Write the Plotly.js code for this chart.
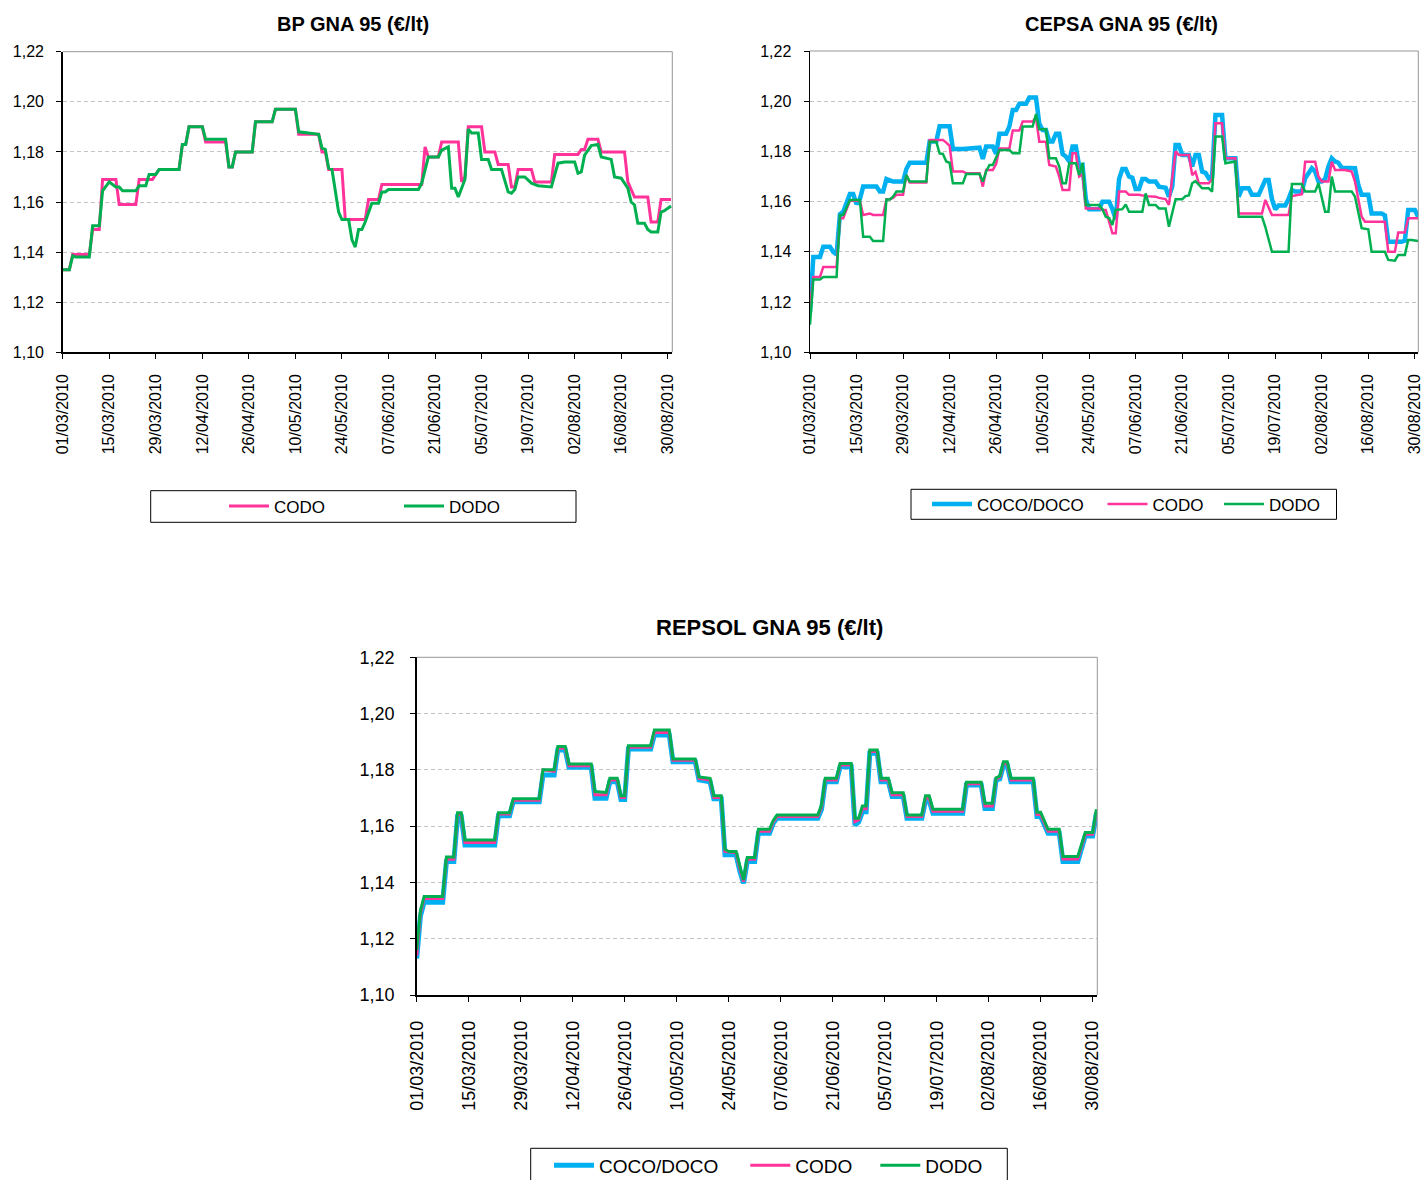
<!DOCTYPE html>
<html>
<head>
<meta charset="utf-8">
<script src="https://cdn.plot.ly/plotly-3.0.1.min.js"></script>
<style>html,body{margin:0;padding:0;background:#fff;}#chart{width:1423px;height:1180px;}</style>
</head>
<body>
<div id="chart"></div>
<script>
// ---------- DATA (day index from 01/03/2010, price €/lt) ----------
const startDate = '2010-03-01';
const tickLabelFormat = '%d/%m/%Y';
const yTicks = [1.10, 1.12, 1.14, 1.16, 1.18, 1.20, 1.22];
const seriesNames = ['COCO/DOCO', 'CODO', 'DODO'];
const chartTitles = ['BP GNA 95 (€/lt)', 'CEPSA GNA 95 (€/lt)', 'REPSOL GNA 95 (€/lt)'];

const bpCodo = [[0,1.133],[2,1.133],[3,1.139],[8,1.139],[9,1.149],[11,1.149],[12,1.169],[16,1.169],[17,1.159],[22,1.159],
 [23,1.169],[27,1.169],[28,1.171],[29,1.173],[35,1.173],[36,1.183],[37,1.183],[38,1.190],[42,1.190],[43,1.184],
 [49,1.184],[50,1.174],[51,1.174],[52,1.180],[57,1.180],[58,1.192],[63,1.192],[64,1.197],[70,1.197],[71,1.187],
 [77,1.187],[78,1.180],[79,1.180],[80,1.173],[84,1.173],[85,1.153],[91,1.153],[92,1.161],[95,1.161],[96,1.167],
 [108,1.167],[109,1.182],[110,1.178],[113,1.178],[114,1.184],[119,1.184],[120,1.168],[121,1.170],[122,1.190],[126,1.190],
 [127,1.180],[130,1.180],[131,1.175],[134,1.175],[135,1.166],[136,1.166],[137,1.173],[141,1.173],[142,1.168],[147,1.168],
 [148,1.179],[155,1.179],[156,1.181],[157,1.181],[158,1.185],[161,1.185],[162,1.180],[169,1.180],[170,1.168],[171,1.165],
 [172,1.162],[176,1.162],[177,1.152],[179,1.152],[180,1.161],[183,1.161]];

const bpDodo = [[0,1.133],[2,1.133],[3,1.1385],[4,1.138],[8,1.138],[9,1.1505],[11,1.1505],[12,1.1645],[14,1.168],[16,1.166],
 [17,1.166],[18,1.1645],[22,1.1645],[23,1.1665],[25,1.1665],[26,1.171],[28,1.171],[29,1.173],[35,1.173],[36,1.183],
 [37,1.183],[38,1.190],[42,1.190],[43,1.185],[49,1.185],[50,1.174],[51,1.174],[52,1.180],[57,1.180],[58,1.192],
 [63,1.192],[64,1.197],[70,1.197],[71,1.188],[77,1.187],[78,1.1815],[79,1.181],[80,1.1735],[81,1.173],[83,1.156],
 [84,1.153],[86,1.153],[87,1.145],[88,1.142],[89,1.149],[90,1.149],[91,1.152],[93,1.1595],[95,1.1595],[96,1.164],
 [97,1.164],[98,1.165],[107,1.165],[108,1.1675],[110,1.178],[113,1.178],[114,1.1807],[116,1.182],[117,1.1655],[118,1.1655],
 [119,1.162],[121,1.169],[122,1.189],[123,1.1875],[125,1.1875],[126,1.177],[128,1.177],[129,1.173],[132,1.173],[134,1.164],
 [135,1.1635],[136,1.165],[137,1.170],[139,1.170],[141,1.1675],[143,1.1665],[147,1.166],[149,1.1755],[151,1.176],[154,1.176],
 [155,1.1715],[156,1.172],[157,1.1787],[158,1.1807],[159,1.1825],[161,1.183],[162,1.178],[165,1.177],[166,1.170],[168,1.1695],
 [170,1.1655],[171,1.160],[172,1.1588],[173,1.1515],[175,1.1515],[176,1.149],[177,1.148],[179,1.148],[180,1.156],[181,1.1565],
 [183,1.1584]];

const cepsaCoco = [[0,1.116],[1,1.138],[3,1.138],[4,1.142],[6,1.142],[7,1.140],[8,1.139],[9,1.155],[10,1.156],[12,1.163],
 [13,1.163],[14,1.159],[15,1.161],[16,1.166],[20,1.166],[21,1.164],[22,1.164],[23,1.169],[25,1.168],[28,1.168],
 [29,1.173],[30,1.1755],[35,1.1755],[36,1.184],[38,1.184],[39,1.190],[42,1.190],[43,1.181],[46,1.181],[51,1.1815],
 [52,1.177],[53,1.182],[55,1.182],[56,1.179],[57,1.187],[59,1.187],[60,1.190],[61,1.1965],[62,1.1965],[63,1.199],
 [65,1.199],[66,1.2015],[68,1.2015],[69,1.191],[70,1.1885],[71,1.1885],[72,1.184],[73,1.184],[74,1.187],[75,1.187],
 [76,1.179],[77,1.178],[78,1.176],[79,1.182],[80,1.182],[81,1.174],[82,1.1745],[83,1.161],[84,1.157],[87,1.157],
 [88,1.160],[90,1.160],[91,1.157],[92,1.153],[93,1.169],[94,1.173],[95,1.173],[96,1.170],[97,1.1695],[98,1.165],
 [99,1.165],[100,1.169],[101,1.169],[102,1.168],[104,1.168],[105,1.166],[107,1.1655],[108,1.162],[109,1.166],[110,1.1826],
 [111,1.1826],[112,1.1786],[114,1.1786],[115,1.174],[116,1.1786],[117,1.1786],[118,1.172],[119,1.1715],[120,1.1693],[121,1.170],
 [122,1.1945],[124,1.1945],[125,1.1773],[128,1.1773],[129,1.162],[130,1.1653],[132,1.1653],[133,1.1627],[135,1.1627],[136,1.1653],
 [137,1.1686],[138,1.1686],[139,1.161],[140,1.157],[141,1.1585],[143,1.1585],[144,1.161],[145,1.1646],[146,1.164],[148,1.164],
 [149,1.1693],[150,1.1713],[151,1.1733],[152,1.172],[153,1.168],[154,1.168],[155,1.169],[156,1.174],[157,1.1773],[158,1.176],
 [159,1.1755],[160,1.1735],[164,1.1733],[165,1.1666],[166,1.1627],[168,1.1627],[169,1.1553],[172,1.1553],[173,1.1545],[174,1.144],
 [178,1.144],[179,1.1445],[180,1.1567],[182,1.1567],[183,1.154]];

const cepsaCodo = [[0,1.118],[1,1.130],[3,1.130],[4,1.134],[8,1.134],[9,1.1534],[10,1.1534],[12,1.1604],[15,1.1604],[16,1.1547],
 [17,1.155],[18,1.1553],[19,1.1547],[22,1.1547],[23,1.161],[24,1.161],[25,1.1615],[26,1.1627],[28,1.1627],[29,1.1706],
 [30,1.1676],[35,1.1676],[36,1.1846],[40,1.1846],[41,1.1835],[42,1.1822],[43,1.172],[46,1.172],[47,1.1713],[51,1.1713],
 [52,1.166],[53,1.1726],[55,1.1726],[56,1.175],[57,1.1812],[60,1.1812],[61,1.1883],[63,1.1883],[64,1.1919],[67,1.1919],
 [68,1.1936],[69,1.1839],[71,1.1839],[72,1.1746],[74,1.174],[75,1.170],[76,1.1646],[78,1.1646],[79,1.1793],[80,1.1793],
 [81,1.170],[82,1.171],[83,1.1573],[87,1.1573],[88,1.1567],[89,1.1567],[90,1.152],[91,1.1474],[92,1.1474],[93,1.164],
 [95,1.164],[96,1.1627],[99,1.1627],[101,1.1622],[104,1.162],[105,1.1615],[107,1.161],[108,1.1587],[110,1.180],[111,1.1786],
 [114,1.1786],[115,1.1706],[116,1.1719],[117,1.1673],[120,1.1673],[121,1.169],[122,1.1912],[124,1.1912],[125,1.1773],[128,1.1773],
 [129,1.1553],[136,1.1553],[137,1.1607],[138,1.158],[139,1.1547],[144,1.1547],[145,1.1622],[148,1.163],[149,1.1759],[152,1.1759],
 [153,1.170],[154,1.168],[156,1.168],[157,1.1759],[158,1.1726],[161,1.1726],[163,1.172],[164,1.168],[166,1.154],[167,1.152],
 [173,1.152],[174,1.140],[176,1.140],[177,1.1477],[179,1.1477],[180,1.1534],[183,1.1534]];

const cepsaDodo = [[0,1.111],[1,1.129],[3,1.129],[4,1.130],[8,1.130],[9,1.1547],[10,1.1547],[12,1.1607],[15,1.1607],[16,1.146],
 [18,1.146],[19,1.1443],[22,1.1443],[23,1.1609],[24,1.1609],[25,1.162],[26,1.164],[28,1.164],[29,1.1706],[30,1.168],
 [35,1.168],[36,1.1839],[38,1.1839],[39,1.1792],[40,1.179],[41,1.176],[42,1.1755],[43,1.1673],[46,1.1673],[47,1.171],
 [51,1.171],[52,1.168],[53,1.172],[54,1.1746],[55,1.1746],[57,1.1806],[60,1.1806],[61,1.1793],[63,1.1793],[64,1.1899],
 [67,1.1899],[68,1.1949],[69,1.1888],[71,1.1888],[72,1.1773],[74,1.1773],[75,1.174],[76,1.1673],[77,1.1673],[78,1.1753],
 [80,1.1753],[81,1.1706],[82,1.1755],[83,1.1587],[87,1.1587],[88,1.157],[89,1.154],[90,1.1535],[91,1.1507],[92,1.1567],
 [94,1.157],[95,1.1589],[96,1.156],[100,1.156],[101,1.1633],[102,1.1587],[104,1.1587],[105,1.1573],[107,1.1573],[108,1.150],
 [110,1.161],[112,1.161],[113,1.1622],[114,1.1625],[115,1.1673],[116,1.1682],[118,1.1653],[120,1.1653],[121,1.164],[122,1.1859],
 [124,1.1859],[125,1.1753],[128,1.176],[129,1.154],[136,1.154],[137,1.150],[139,1.140],[144,1.140],[145,1.167],[148,1.167],
 [149,1.164],[152,1.164],[153,1.1673],[155,1.156],[156,1.156],[157,1.170],[158,1.164],[163,1.164],[164,1.162],[166,1.1494],
 [168,1.149],[169,1.140],[173,1.140],[174,1.1368],[176,1.1365],[177,1.1388],[179,1.1388],[180,1.1447],[181,1.1447],[183,1.1443]];

const repsolCoco = [[0,1.113],[1,1.128],[2,1.133],[7,1.133],[8,1.1474],[10,1.1474],[11,1.1634],[12,1.1634],[13,1.1533],[21,1.1533],
 [22,1.1637],[25,1.1637],[26,1.1687],[33,1.1687],[34,1.1782],[37,1.1782],[38,1.1871],[40,1.1871],[41,1.1809],[47,1.1809],
 [48,1.1699],[51,1.1699],[52,1.1758],[54,1.1758],[55,1.1695],[56,1.1695],[57,1.1874],[63,1.1874],[64,1.1924],[68,1.1924],
 [69,1.1829],[75,1.1829],[76,1.1765],[79,1.1758],[80,1.1697],[82,1.1697],[83,1.1498],[86,1.1498],[87,1.144],[88,1.1397],
 [89,1.1474],[91,1.1474],[92,1.1575],[95,1.1575],[96,1.161],[97,1.1628],[108,1.1628],[109,1.166],[110,1.1758],[113,1.1758],
 [114,1.1811],[117,1.1811],[118,1.1604],[119,1.1615],[120,1.1651],[121,1.1651],[122,1.1859],[124,1.1859],[125,1.1758],[127,1.1758],
 [128,1.1705],[131,1.1705],[132,1.1628],[136,1.1628],[137,1.1690],[138,1.1690],[139,1.1646],[147,1.1646],[148,1.1746],[152,1.1746],
 [153,1.1663],[155,1.1663],[156,1.1764],[157,1.1768],[158,1.1817],[159,1.1817],[160,1.1758],[166,1.1758],[167,1.1634],[168,1.1634],
 [170,1.1575],[173,1.1575],[174,1.1474],[178,1.1474],[180,1.1565],[182,1.1565],[183,1.1646]];

const repsolCodo = [[0,1.114],[1,1.129],[2,1.1343],[7,1.1343],[8,1.1482],[10,1.1482],[11,1.1641],[12,1.1641],[13,1.1542],[21,1.1542],
 [22,1.1643],[25,1.1643],[26,1.1692],[33,1.1692],[34,1.1800],[37,1.1795],[38,1.1877],[40,1.1877],[41,1.1815],[47,1.1815],
 [48,1.1712],[51,1.1712],[52,1.1764],[54,1.1764],[55,1.1702],[56,1.1702],[57,1.1880],[63,1.1880],[64,1.1933],[68,1.1933],
 [69,1.1834],[75,1.1834],[76,1.1770],[79,1.1764],[80,1.1702],[82,1.1702],[83,1.1510],[86,1.1505],[87,1.1450],[88,1.1403],
 [89,1.1482],[91,1.1482],[92,1.1582],[95,1.1582],[96,1.1615],[97,1.1634],[108,1.1634],[109,1.1668],[110,1.1764],[113,1.1764],
 [114,1.1817],[117,1.1817],[118,1.1616],[119,1.1622],[120,1.1662],[121,1.1662],[122,1.1865],[124,1.1865],[125,1.1764],[127,1.1764],
 [128,1.1712],[131,1.1712],[132,1.1634],[136,1.1634],[137,1.1699],[138,1.1699],[139,1.1653],[147,1.1653],[148,1.1751],[152,1.1751],
 [153,1.1672],[155,1.1672],[156,1.1768],[157,1.1773],[158,1.1823],[159,1.1823],[160,1.1764],[166,1.1764],[167,1.1641],[168,1.1641],
 [170,1.1582],[173,1.1582],[174,1.1483],[178,1.1483],[180,1.1571],[182,1.1571],[183,1.1653]];

const repsolDodo = [[0,1.116],[1,1.130],[2,1.135],[7,1.135],[8,1.149],[10,1.149],[11,1.1648],[12,1.1648],[13,1.1551],[21,1.1551],
 [22,1.1648],[25,1.1648],[26,1.1697],[33,1.1697],[34,1.180],[37,1.180],[38,1.1883],[40,1.1883],[41,1.1821],[47,1.1821],
 [48,1.1723],[51,1.172],[52,1.177],[54,1.177],[55,1.1708],[56,1.1708],[57,1.1886],[63,1.1886],[64,1.1942],[68,1.1942],
 [69,1.1839],[75,1.1839],[76,1.1775],[79,1.1770],[80,1.1708],[82,1.1708],[83,1.1518],[84,1.151],[86,1.151],[87,1.146],
 [88,1.1409],[89,1.1489],[91,1.1489],[92,1.1589],[95,1.1589],[96,1.162],[97,1.164],[108,1.164],[109,1.1675],[110,1.177],
 [113,1.177],[114,1.1823],[117,1.1823],[118,1.1628],[119,1.1628],[120,1.1672],[121,1.1672],[122,1.1871],[124,1.1871],[125,1.177],
 [127,1.177],[128,1.1719],[131,1.1719],[132,1.164],[136,1.164],[137,1.1708],[138,1.1708],[139,1.166],[147,1.166],[148,1.1756],
 [152,1.1756],[153,1.1681],[155,1.1681],[156,1.1772],[157,1.1778],[158,1.1829],[159,1.1829],[160,1.177],[166,1.177],[167,1.1649],
 [168,1.1649],[170,1.1589],[173,1.1589],[174,1.1492],[178,1.1492],[180,1.1577],[182,1.1577],[183,1.166]];

// ---------- STYLE ----------
const colors = {coco: '#00B0F0', codo: '#FF3399', dodo: '#00B050'};
const FONT = 'Arial, "Liberation Sans", sans-serif';
const W = 1423, H = 1180;
const fx = p => p / W;            // pixel -> paper/container x
const fy = p => 1 - p / H;        // pixel -> paper/container y

function dayToDate(d) {
  const t = Date.parse(startDate + 'T00:00:00Z') + d * 86400000;
  return new Date(t).toISOString().slice(0, 10);
}
function mk(series, name, color, width, xa, ya, legendId) {
  return {
    type: 'scatter', mode: 'lines', name: name,
    x: series.map(p => dayToDate(p[0])), y: series.map(p => p[1]),
    xaxis: xa, yaxis: ya, legend: legendId, showlegend: true,
    line: {color: color, width: width, shape: 'linear'},
    hoverinfo: 'skip'
  };
}

const traces = [
  mk(bpCodo, seriesNames[1], colors.codo, 3, 'x', 'y', 'legend'),
  mk(bpDodo, seriesNames[2], colors.dodo, 3, 'x', 'y', 'legend2'),
  mk(cepsaCoco, seriesNames[0], colors.coco, 4.5, 'x2', 'y2', 'legend3'),
  mk(cepsaCodo, seriesNames[1], colors.codo, 2.5, 'x2', 'y2', 'legend4'),
  mk(cepsaDodo, seriesNames[2], colors.dodo, 2.5, 'x2', 'y2', 'legend5'),
  mk(repsolCoco, seriesNames[0], colors.coco, 5, 'x3', 'y3', 'legend6'),
  mk(repsolCodo, seriesNames[1], colors.codo, 3, 'x3', 'y3', 'legend7'),
  mk(repsolDodo, seriesNames[2], colors.dodo, 3, 'x3', 'y3', 'legend8')
];

function xAxis(dom, endRange, fs, standoff, anchor) {
  return {
    type: 'date', domain: dom, anchor: anchor,
    range: [startDate, endRange],
    tick0: startDate, dtick: 14 * 86400000, tickformat: tickLabelFormat,
    tickangle: -90, ticks: 'outside', ticklen: 5, tickwidth: 1, tickcolor: '#000',
    ticklabelstandoff: standoff, ticklabeloverflow: 'allow', automargin: false,
    showline: true, linecolor: '#000', linewidth: 1.5,
    showgrid: false, zeroline: false, fixedrange: true,
    tickfont: {family: FONT, size: fs, color: '#000'}
  };
}
function yAxis(dom, fs, standoff, anchor) {
  return {
    domain: dom, anchor: anchor, range: [1.10, 1.22],
    tickmode: 'array', tickvals: yTicks, tickformat: '.2f',
    ticks: 'outside', ticklen: 5, tickwidth: 1, tickcolor: '#000',
    ticklabelstandoff: standoff, ticklabeloverflow: 'allow', automargin: false,
    showline: true, linecolor: '#000', linewidth: 1.5,
    showgrid: true, gridcolor: '#C4C4C4', gridwidth: 1, griddash: '4px,3px',
    zeroline: false, fixedrange: true,
    tickfont: {family: FONT, size: fs, color: '#000'}
  };
}

function legendAt(xpx, ypx, fs) {
  return {
    xref: 'container', yref: 'container',
    x: fx(xpx), y: fy(ypx), xanchor: 'left', yanchor: 'middle',
    orientation: 'h', bgcolor: 'rgba(0,0,0,0)', borderwidth: 0,
    itemwidth: 40, tracegroupgap: 0,
    font: {family: FONT, size: fs, color: '#000'}
  };
}

function borderShapes(xa, ya) {
  return [
    {type: 'line', xref: xa + ' domain', yref: ya + ' domain', x0: 0, x1: 1, y0: 1, y1: 1, line: {color: '#969696', width: 1}, layer: 'above'},
    {type: 'line', xref: xa + ' domain', yref: ya + ' domain', x0: 1, x1: 1, y0: 0, y1: 1, line: {color: '#969696', width: 1}, layer: 'above'}
  ];
}
function boxShape(x0, x1, y0, y1) {
  return {type: 'rect', xref: 'paper', yref: 'paper', x0: fx(x0), x1: fx(x1), y0: fy(y1), y1: fy(y0),
          line: {color: '#000', width: 1}, fillcolor: 'rgba(0,0,0,0)'};
}
function titleAnn(text, xpx, ypx, fs) {
  return {text: '<b>' + text + '</b>', xref: 'paper', yref: 'paper', x: fx(xpx), y: fy(ypx),
          xanchor: 'center', yanchor: 'middle', showarrow: false,
          font: {family: FONT, size: fs, color: '#000'}};
}

const layout = {
  width: W, height: H,
  margin: {l: 0, r: 0, t: 0, b: 0, autoexpand: false},
  paper_bgcolor: '#fff', plot_bgcolor: '#fff',
  separators: ',.',
  font: {family: FONT, color: '#000'},
  xaxis: xAxis([fx(62.7), fx(672.3)], '2010-08-31 09:00', 16, 9, 'y'),
  yaxis: yAxis([fy(352.3), fy(51.7)], 16, 9, 'x'),
  xaxis2: xAxis([fx(810), fx(1418.3)], '2010-08-31 01:00', 16, 9, 'y2'),
  yaxis2: yAxis([fy(352.3), fy(51)], 16, 9, 'x2'),
  xaxis3: xAxis([fx(416.7), fx(1097.3)], '2010-08-31 06:00', 18, 12, 'y3'),
  yaxis3: yAxis([fy(995), fy(657.3)], 18, 12, 'x3'),
  legend: legendAt(224, 506.5, 17),
  legend2: legendAt(399, 506.5, 17),
  legend3: legendAt(927, 504.5, 17),
  legend4: legendAt(1102.5, 504.5, 17),
  legend5: legendAt(1219, 504.5, 17),
  legend6: legendAt(549, 1165.5, 19),
  legend7: legendAt(745.3, 1165.5, 19),
  legend8: legendAt(875.3, 1165.5, 19),
  shapes: [].concat(
    borderShapes('x', 'y'), borderShapes('x2', 'y2'), borderShapes('x3', 'y3'),
    [boxShape(150.7, 576, 490.7, 522.3), boxShape(911, 1336.5, 489.3, 519.3), boxShape(530.7, 1007.3, 1148.3, 1200)]
  ),
  annotations: [
    titleAnn(chartTitles[0], 352.5, 24, 20),
    titleAnn(chartTitles[1], 1121.5, 24, 20),
    titleAnn(chartTitles[2], 769, 627, 22)
  ]
};

Plotly.newPlot('chart', traces, layout, {displayModeBar: false, staticPlot: true});
</script>
</body>
</html>
